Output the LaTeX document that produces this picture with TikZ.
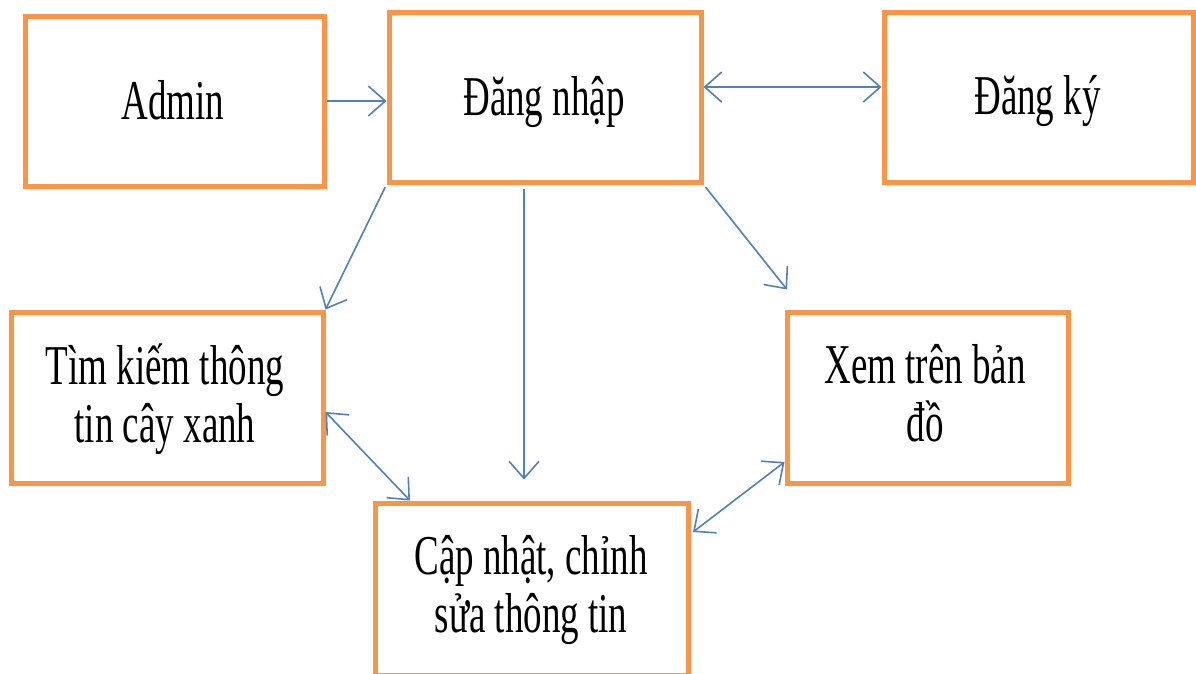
\documentclass[tikz,border=0pt]{standalone}
\usepackage{fontspec}
\setmainfont{Liberation Serif}
\usetikzlibrary{arrows.meta}
\definecolor{boxorange}{HTML}{F79646}
\definecolor{arrblue}{HTML}{4F81BD}
\newcommand{\tx}[1]{\scalebox{1}[1.52]{\fontsize{37}{38}\selectfont\begin{tabular}{@{}c@{}}#1\end{tabular}}}
\newcommand{\tl}[1]{\scalebox{1}[1.52]{\fontsize{37}{38}\selectfont #1}}
\tikzset{
  box/.style={draw=boxorange, line width=5pt, rectangle, inner sep=0pt, fill=white},
  txt/.style={inner sep=0pt, text=black},
  arr/.style={draw=arrblue, line width=1.6pt, -{Straight Barb[length=17pt,width=30pt,line width=1.6pt]}},
  arrr/.style={draw=arrblue, line width=1.6pt, {Straight Barb[length=17pt,width=30pt,line width=1.6pt]}-{Straight Barb[length=17pt,width=30pt,line width=1.6pt]}}
}
\begin{document}
\begin{tikzpicture}[x=1pt, y=-1pt]
\useasboundingbox[fill=white] (0,0) rectangle (1196,673);
% boxes
\node[box, minimum width=299pt, minimum height=170pt] (admin) at (175,101) {};
\node[box, minimum width=312pt, minimum height=170pt] (login) at (545,97) {};
\node[box, minimum width=309pt, minimum height=170pt] (reg) at (1038.5,97) {};
\node[box, minimum width=312pt, minimum height=171pt] (search) at (167,397.5) {};
\node[box, minimum width=281pt, minimum height=171pt] (view) at (927.5,397.5) {};
\node[box, minimum width=313pt, minimum height=172pt] (update) at (531.5,589) {};
% texts
\node[txt, anchor=base] (tadmin) at (173,119) {\tl{Admin}};
\node[txt, anchor=base] (tlogin) at (544,115) {\tl{Đăng nhập}};
\node[txt, anchor=base] (treg) at (1037.5,114) {\tl{Đăng ký}};
\node[txt] (tsearch) at (165,402) {\tx{Tìm kiếm thông\\tin cây xanh}};
\node[txt] (tview) at (925,401) {\tx{Xem trên bản\\đồ}};
\node[txt] (tupdate) at (531,592) {\tx{Cập nhật, chỉnh\\sửa thông tin}};
% connectors
\draw[arr] (admin.east) -- (admin.east -| login.west);
\draw[arrr] ([yshift=10pt]login.east) -- ([yshift=10pt]reg.west);
\draw[arr, shorten <=3pt] (login.south west) -- (search.north east);
\draw[arr, shorten <=4pt, shorten >=21pt] ([xshift=-21pt]login.south) -- ([xshift=-7.5pt]update.north);
\draw[arr, shorten <=3pt] (login.south east) -- ([xshift=2.5pt,yshift=20pt]view.north west);
\draw[arrr] ([yshift=-14.5pt]search.east) -- ([xshift=37.5pt]update.north west);
\draw[arrr] ([xshift=2.5pt,yshift=-31.5pt]update.north east) -- ([yshift=23.5pt]view.south west);
\end{tikzpicture}
\end{document}
